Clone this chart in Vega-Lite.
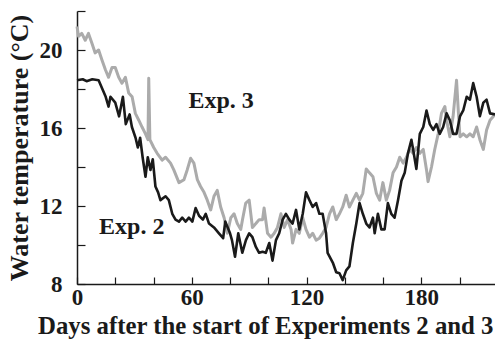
{
  "$schema": "https://vega.github.io/schema/vega-lite/v6.json",
  "width": 418,
  "height": 273,
  "autosize": {"type": "none"},
  "padding": {"left": 77, "top": 11, "right": 0, "bottom": 55},
  "background": "white",
  "config": {
    "view": {"stroke": null},
    "font": "Liberation Serif",
    "axis": {"grid": false, "domainColor": "#1a1a1a", "tickColor": "#1a1a1a", "domainWidth": 1.5, "tickWidth": 1.2, "labelFont": "Liberation Serif", "titleFont": "Liberation Serif", "labelFontWeight": "bold", "titleFontWeight": "bold", "labelColor": "#1a1a1a", "titleColor": "#1a1a1a"}
  },
  "datasets": {
    "exp2": [
      {"d":0,"t":18.45},{"d":3,"t":18.5},{"d":5,"t":18.4},{"d":8,"t":18.5},{"d":11.3,"t":18.45},{"d":15,"t":17.6},{"d":16.5,"t":17.1},{"d":17.5,"t":17.6},{"d":20,"t":17.3},{"d":22,"t":16.6},{"d":24,"t":17.6},{"d":25.5,"t":16.2},{"d":27.5,"t":16.7},{"d":28.7,"t":16.05},{"d":30.6,"t":15.5},{"d":31.8,"t":15.0},{"d":33,"t":15.5},{"d":34.3,"t":14.5},{"d":35.8,"t":13.5},{"d":37,"t":14.5},{"d":38.4,"t":13.85},{"d":39.6,"t":14.4},{"d":41,"t":13.0},{"d":42.4,"t":12.7},{"d":43.6,"t":12.3},{"d":46.3,"t":12.5},{"d":48,"t":12.3},{"d":49.8,"t":11.6},{"d":51.5,"t":11.3},{"d":53.3,"t":11.2},{"d":55,"t":11.4},{"d":56.8,"t":11.2},{"d":58.5,"t":11.4},{"d":60.3,"t":11.2},{"d":62,"t":11.9},{"d":63.8,"t":11.5},{"d":65.8,"t":11.3},{"d":67.3,"t":11.6},{"d":69,"t":11.1},{"d":71.6,"t":10.9},{"d":74.2,"t":10.6},{"d":76.4,"t":10.35},{"d":77.5,"t":11.2},{"d":80,"t":10.6},{"d":81,"t":10.25},{"d":82.6,"t":9.4},{"d":84.3,"t":10.6},{"d":86.4,"t":9.6},{"d":88.3,"t":10.25},{"d":90,"t":10.6},{"d":91.7,"t":10.4},{"d":93.5,"t":9.9},{"d":95.2,"t":9.6},{"d":97,"t":9.65},{"d":98.7,"t":9.6},{"d":100.5,"t":10.1},{"d":102.2,"t":9.2},{"d":104,"t":10.25},{"d":105.7,"t":10.6},{"d":107.5,"t":11.3},{"d":109.2,"t":11.6},{"d":111,"t":11.3},{"d":112.7,"t":11.1},{"d":114.5,"t":11.8},{"d":116.2,"t":10.8},{"d":118,"t":11.6},{"d":119.7,"t":12.7},{"d":121.5,"t":12.3},{"d":123.2,"t":11.95},{"d":125,"t":12.15},{"d":126.7,"t":11.6},{"d":128.4,"t":11.6},{"d":130.2,"t":10.6},{"d":131,"t":9.6},{"d":133.7,"t":9.1},{"d":135.5,"t":8.6},{"d":137.2,"t":8.55},{"d":138.9,"t":8.2},{"d":140.7,"t":8.7},{"d":142.4,"t":8.9},{"d":144.2,"t":10.1},{"d":146,"t":11.1},{"d":147.7,"t":12.15},{"d":149.4,"t":11.6},{"d":151.2,"t":11.1},{"d":152.9,"t":10.9},{"d":154.7,"t":11.4},{"d":155.6,"t":10.6},{"d":157.3,"t":11.6},{"d":159.1,"t":10.8},{"d":160.8,"t":10.8},{"d":162.5,"t":12.15},{"d":164.3,"t":11.6},{"d":166,"t":11.4},{"d":167.8,"t":12.3},{"d":169.6,"t":13.3},{"d":171.3,"t":13.7},{"d":173,"t":14.7},{"d":174.8,"t":15.4},{"d":175.7,"t":14.9},{"d":177.4,"t":13.9},{"d":179.2,"t":15.7},{"d":181,"t":16.05},{"d":182.7,"t":16.9},{"d":184.4,"t":16.2},{"d":186.2,"t":15.9},{"d":187.9,"t":16.2},{"d":189.6,"t":15.7},{"d":191.4,"t":16.05},{"d":193.2,"t":16.75},{"d":194.9,"t":16.4},{"d":196.6,"t":15.7},{"d":198.4,"t":15.7},{"d":200.2,"t":16.6},{"d":201.9,"t":16.9},{"d":203.7,"t":17.6},{"d":205.4,"t":17.45},{"d":207.1,"t":18.3},{"d":208.9,"t":17.6},{"d":210.6,"t":16.6},{"d":212.4,"t":17.3},{"d":214.1,"t":17.45},{"d":215.9,"t":16.75},{"d":218.5,"t":16.7}
    ],
    "exp3": [
      {"d":0,"t":21.2},{"d":0.8,"t":20.7},{"d":2.5,"t":20.85},{"d":4.3,"t":20.5},{"d":6,"t":20.85},{"d":7.8,"t":20.35},{"d":9.5,"t":19.85},{"d":11.3,"t":20.0},{"d":13,"t":19.5},{"d":14.8,"t":19.0},{"d":16.5,"t":18.6},{"d":18.3,"t":19.1},{"d":20,"t":19.1},{"d":21.8,"t":18.6},{"d":23.5,"t":18.3},{"d":25.3,"t":18.6},{"d":27,"t":17.8},{"d":28.8,"t":17.6},{"d":30.5,"t":16.75},{"d":32.3,"t":16.4},{"d":34,"t":16.05},{"d":35.8,"t":15.7},{"d":37.1,"t":15.4},{"d":37.5,"t":18.55},{"d":38.1,"t":15.4},{"d":40.1,"t":15.0},{"d":41.9,"t":14.7},{"d":44.5,"t":14.35},{"d":46.3,"t":14.5},{"d":48.9,"t":14.2},{"d":50.6,"t":13.85},{"d":53.3,"t":13.2},{"d":55.9,"t":13.35},{"d":57.6,"t":13.85},{"d":59.4,"t":14.45},{"d":61.1,"t":14.2},{"d":62.9,"t":13.35},{"d":64.6,"t":13.0},{"d":66.4,"t":12.7},{"d":68.1,"t":12.3},{"d":69.9,"t":11.8},{"d":71.6,"t":12.5},{"d":73.3,"t":12.8},{"d":75.1,"t":11.95},{"d":76.9,"t":11.4},{"d":78.6,"t":10.6},{"d":80.4,"t":11.4},{"d":82.1,"t":11.6},{"d":83.8,"t":11.1},{"d":85.6,"t":10.8},{"d":86.5,"t":11.3},{"d":88.2,"t":12.15},{"d":90,"t":12.3},{"d":91.7,"t":10.9},{"d":93.5,"t":11.1},{"d":95.2,"t":11.3},{"d":97,"t":11.3},{"d":97.8,"t":11.9},{"d":99.6,"t":10.6},{"d":101.4,"t":10.4},{"d":103.1,"t":10.6},{"d":104.8,"t":10.9},{"d":106.6,"t":11.6},{"d":108.3,"t":10.9},{"d":110.1,"t":11.3},{"d":111.9,"t":10.8},{"d":112.7,"t":10.1},{"d":114.5,"t":10.8},{"d":116.2,"t":10.6},{"d":118,"t":11.4},{"d":119.7,"t":10.8},{"d":121.5,"t":10.4},{"d":123.2,"t":10.6},{"d":125,"t":10.25},{"d":126.7,"t":10.35},{"d":128.4,"t":10.6},{"d":130.2,"t":10.9},{"d":132,"t":11.6},{"d":133.7,"t":11.95},{"d":135.5,"t":11.3},{"d":137.2,"t":11.6},{"d":138.9,"t":11.95},{"d":140.7,"t":12.55},{"d":142.4,"t":11.95},{"d":144.2,"t":12.3},{"d":146,"t":12.65},{"d":147.7,"t":12.3},{"d":149.4,"t":12.65},{"d":151.2,"t":13.9},{"d":152.9,"t":13.7},{"d":154.7,"t":13.5},{"d":156.5,"t":12.65},{"d":158.2,"t":12.3},{"d":159.9,"t":13.2},{"d":161.7,"t":12.3},{"d":163.4,"t":12.8},{"d":165.2,"t":13.7},{"d":167,"t":14.0},{"d":168.7,"t":14.5},{"d":170.5,"t":14.2},{"d":172.2,"t":14.5},{"d":173.9,"t":14.9},{"d":175.7,"t":14.7},{"d":177.4,"t":15.0},{"d":179.2,"t":14.7},{"d":181,"t":14.9},{"d":182.7,"t":13.85},{"d":183.5,"t":13.25},{"d":185.3,"t":14.0},{"d":187,"t":14.9},{"d":188.8,"t":15.7},{"d":190.5,"t":16.75},{"d":192.3,"t":17.1},{"d":193.2,"t":16.4},{"d":194.9,"t":15.55},{"d":196.6,"t":16.6},{"d":198.4,"t":18.45},{"d":199.3,"t":16.9},{"d":200.2,"t":15.55},{"d":201.9,"t":15.7},{"d":203.7,"t":15.55},{"d":205.4,"t":15.7},{"d":207.1,"t":15.55},{"d":208.9,"t":16.05},{"d":210.6,"t":15.4},{"d":212.4,"t":14.9},{"d":214.1,"t":15.9},{"d":215.9,"t":16.4},{"d":218.5,"t":16.7}
    ],
    "labels": [
      {"d":75.3,"t":17.4,"label":"Exp. 3"},
      {"d":28.6,"t":10.9,"label":"Exp. 2"}
    ]
  },
  "encoding": {
    "x": {"field": "d", "type": "quantitative",
      "scale": {"domain": [0, 218.5], "nice": false, "zero": false},
      "axis": {"values": [0,20,40,60,80,100,120,140,160,180,200], "labelExpr": "datum.value % 60 == 0 ? datum.label : ''", "tickSize": -7, "labelPadding": 9, "labelFontSize": 23, "title": "Days after the start of Experiments 2 and 3", "titleFontSize": 24.8, "titlePadding": 4, "titleAnchor": "end", "titleX": 416, "labelFlush": false}},
    "y": {"field": "t", "type": "quantitative",
      "scale": {"domain": [8, 22], "nice": false, "zero": false},
      "axis": {"values": [8,10,12,14,16,18,20,22], "labelExpr": "datum.value % 4 == 0 ? datum.label : ''", "tickSize": -8, "labelPadding": 23, "labelFontSize": 23, "title": "Water temperature (°C)", "titleFontSize": 26, "titlePadding": 7}}
  },
  "layer": [
    {"data": {"name": "exp3"}, "mark": {"type": "line", "color": "#ababab", "strokeWidth": 3, "strokeJoin": "round"}},
    {"data": {"name": "exp2"}, "mark": {"type": "line", "color": "#1a1a1a", "strokeWidth": 2.6, "strokeJoin": "round"}},
    {"data": {"name": "labels"}, "mark": {"type": "text", "font": "Liberation Serif", "fontWeight": "bold", "fontSize": 24, "color": "#1a1a1a", "align": "center", "baseline": "middle"}, "encoding": {"text": {"field": "label"}}}
  ]
}
